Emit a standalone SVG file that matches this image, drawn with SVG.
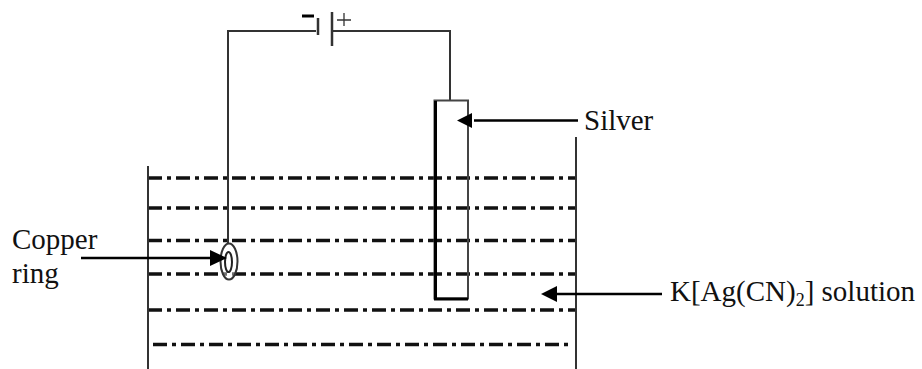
<svg xmlns="http://www.w3.org/2000/svg" width="922" height="369" viewBox="0 0 922 369">
<style>
text{font-family:"Liberation Serif","Times New Roman",serif;font-size:29px;fill:#111}
.w{fill:none;stroke:#333;stroke-width:2}
.d{fill:none;stroke:#111;stroke-width:3.500;stroke-dasharray:14 5 4 5}
.a{fill:none;stroke:#000;stroke-width:2.500}
</style>
<rect width="922" height="369" fill="#fff"/>
<g id="solution">
<path class="d" d="M148 178H576M148 208H576M148 240.500H576M148 274H576M148 310H576M153 344.500H571"/>
</g>
<g id="tank">
<path class="w" d="M148 166V369M576 137V369"/>
</g>
<g id="connectors">
<path class="w" d="M228 243V31H316M332 31H450V100"/>
</g>
<g id="battery">
<path d="M318 18V35" fill="none" stroke="#333" stroke-width="2.500"/>
<path d="M332 12V46" fill="none" stroke="#333" stroke-width="2.500"/>
<path d="M302 16H314" stroke="#000" stroke-width="3"/>
<path d="M337 20H351M344 13V26" stroke="#333" stroke-width="1.300"/>
</g>
<g id="silver">
<path d="M434.500 100.500V298.500H468V100.500Z" fill="none" stroke="#444" stroke-width="2"/>
<path d="M435.500 101V299H468" fill="none" stroke="#000" stroke-width="3"/>
</g>
<g id="ring">
<ellipse cx="229" cy="261.500" rx="8.500" ry="18" fill="#fff" fill-opacity=".4" stroke="#333" stroke-width="2"/>
<ellipse cx="228.500" cy="262" rx="3.500" ry="10" fill="none" stroke="#222" stroke-width="2"/>
</g>
<g id="arrows">
<path class="a" d="M81 258H214M474 120.500H578M552 294H662"/>
<path d="M210 250L227 258L210 266ZM457 120.500L472 113V128ZM541 294L557 286V302Z" fill="#000"/>
</g>
<g id="labels">
<text x="12" y="249">Copper</text>
<text x="12" y="283">ring</text>
<text x="584" y="130">Silver</text>
<text x="670" y="301">K[Ag(CN)<tspan font-size="18" dy="5">2</tspan><tspan dy="-5">] solution</tspan></text>
</g>
</svg>
